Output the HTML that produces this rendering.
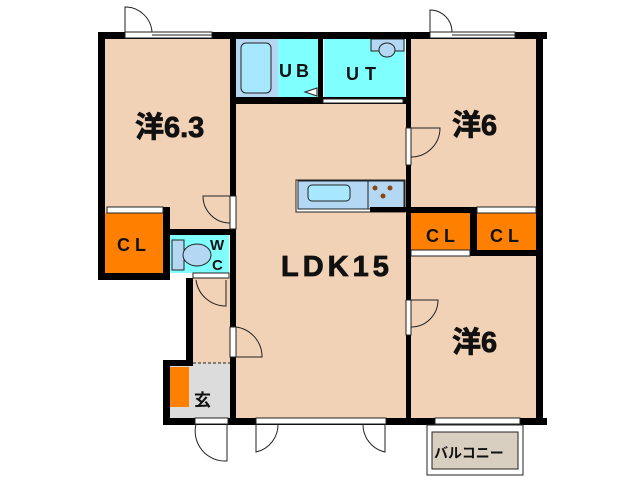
<!DOCTYPE html>
<html><head><meta charset="utf-8"><style>
html,body{margin:0;padding:0;background:#fff;width:640px;height:480px;overflow:hidden}
svg{display:block}
text{font-family:"Liberation Sans","Noto Sans CJK JP",sans-serif;font-weight:bold;fill:#111}
</style></head><body>
<svg width="640" height="480" viewBox="0 0 640 480" xmlns="http://www.w3.org/2000/svg">
<rect x="105" y="38" width="125" height="175" fill="#f2d2b6"/>
<rect x="163" y="213" width="67" height="22" fill="#f2d2b6"/>
<rect x="236" y="104" width="170" height="316" fill="#f2d2b6"/>
<rect x="411" y="38" width="126" height="170" fill="#f2d2b6"/>
<rect x="411" y="256" width="126" height="164" fill="#f2d2b6"/>
<rect x="193" y="278" width="37" height="85" fill="#f2d2b6"/>
<rect x="170" y="363" width="60" height="56" fill="#dcdcdc"/>
<rect x="236" y="38" width="42" height="59" fill="#b4d8f4"/>
<rect x="278" y="38" width="41" height="59" fill="#80ffff"/>
<rect x="324" y="38" width="81" height="59" fill="#80ffff"/>
<rect x="241" y="43" width="30" height="50" rx="5" fill="#a8e8ff" stroke="#222" stroke-width="1"/>
<rect x="371" y="39" width="33" height="12" fill="#b4d8f4" stroke="#222" stroke-width="1"/>
<ellipse cx="387" cy="50" rx="8" ry="7" fill="#b4d8f4" stroke="#222"/>
<rect x="170" y="235" width="59" height="38" fill="#80ffff"/>
<rect x="172" y="240" width="12" height="30" fill="#b4d8f4" stroke="#222"/>
<ellipse cx="197" cy="255" rx="14" ry="11" fill="#b4d8f4" stroke="#222"/>
<rect x="105" y="213" width="58" height="60" fill="#ff8000"/>
<rect x="411" y="213" width="59" height="38" fill="#ff8000"/>
<rect x="477" y="213" width="59" height="37" fill="#ff8000"/>
<rect x="170" y="367" width="19" height="40" fill="#ff8000"/>
<rect x="296" y="180" width="109" height="32" fill="#fff" stroke="#222"/>
<rect x="298" y="181" width="70" height="28" fill="#b4d8f4" stroke="#222"/>
<rect x="368" y="181" width="36" height="28" fill="#b4d8f4" stroke="#222"/>
<rect x="308" y="185" width="42" height="16" rx="4" fill="#a8e8ff" stroke="#222"/>
<circle cx="375" cy="188" r="2.5" fill="#8b4513"/><circle cx="390" cy="188" r="2.5" fill="#8b4513"/><circle cx="383" cy="196" r="2.5" fill="#8b4513"/>
<g fill="#000">
<rect x="98" y="32" width="449" height="7"/>
<rect x="98" y="32" width="7" height="248"/>
<rect x="98" y="273" width="72" height="7"/>
<rect x="230" y="32" width="6" height="393"/>
<rect x="406" y="32" width="5" height="393"/>
<rect x="536" y="32" width="7" height="393"/>
<rect x="163" y="207" width="7" height="73"/>
<rect x="163" y="229" width="73" height="6"/>
<rect x="236" y="97" width="170" height="7"/>
<rect x="318" y="38" width="5" height="60"/>
<rect x="411" y="207" width="125" height="6"/>
<rect x="470" y="207" width="7" height="49"/>
<rect x="470" y="250" width="73" height="6"/>
<rect x="186" y="278" width="7" height="85"/>
<rect x="163" y="360" width="30" height="6"/>
<rect x="163" y="360" width="7" height="65"/>
<rect x="163" y="418" width="384" height="7"/>
<rect x="370" y="207" width="36" height="5"/>
</g>
<g fill="#fff" stroke="#222" stroke-width="1">
<rect x="125" y="32" width="87" height="6"/>
<rect x="430" y="32" width="85" height="6"/>
<rect x="323" y="99" width="80" height="4"/>
<rect x="107" y="207" width="56" height="6"/>
<rect x="411" y="250" width="59" height="6"/>
<rect x="477" y="207" width="59" height="6"/>
<rect x="230" y="196" width="6" height="33"/>
<rect x="406" y="128" width="5" height="37"/>
<rect x="406" y="300" width="5" height="35"/>
<rect x="230" y="327" width="6" height="30"/>
<rect x="193" y="273" width="36" height="5"/>
<rect x="195" y="418" width="33" height="6"/>
<rect x="256" y="418" width="130" height="6"/>
<rect x="435" y="418" width="85" height="6"/>
</g>
<path d="M305 92 L317 88 V96 Z" fill="#fff" stroke="#222"/>
<g fill="none" stroke="#222" stroke-width="1">
<path d="M125 32 V7 A27 27 0 0 1 152 32"/>
<path d="M430 32 V10 A22 22 0 0 1 452 32"/>
<path d="M230 196 H203 A27 27 0 0 0 230 223"/>
<path d="M411 128 H440 A29 29 0 0 1 411 157"/>
<path d="M411 300 H438 A27 27 0 0 1 411 327"/>
<path d="M236 327 A30 30 0 0 1 262 357 H236"/>
<path d="M196 280 A30 30 0 0 0 226 306 V280"/>
<path d="M196 424 A30 30 0 0 0 227 461 V424"/>
<path d="M256 424 V452 A28 28 0 0 0 278 424"/>
<path d="M363 424 A28 28 0 0 0 385 452 V424"/>
<path d="M193 363 H230" stroke-dasharray="3,2"/>
<path d="M152 35 H212 M452 35 H515"/>
</g>
<rect x="427" y="425" width="96" height="50" fill="#fff" stroke="#222"/>
<rect x="432" y="432" width="86" height="37" fill="#d9cfc0" stroke="#222"/>
<g stroke="#111" stroke-width="0.8">
<text x="135" y="137" font-size="29">洋6.3</text>
<text x="281" y="276" font-size="29" letter-spacing="4">LDK15</text>
<text x="452" y="135" font-size="29">洋6</text>
<text x="452" y="352" font-size="29">洋6</text>
</g>
<text x="117" y="251" font-size="18" letter-spacing="5">CL</text>
<text x="426" y="242" font-size="18" letter-spacing="5">CL</text>
<text x="490" y="242" font-size="18" letter-spacing="5">CL</text>
<text x="279" y="77" font-size="18" letter-spacing="4">UB</text>
<text x="346" y="80" font-size="18" letter-spacing="6">UT</text>
<text x="210" y="250" font-size="15">W</text>
<text x="212" y="270" font-size="15">C</text>
<text x="194" y="406" font-size="17">玄</text>
<text x="434" y="458" font-size="14">バルコニー</text>
</svg>
</body></html>
